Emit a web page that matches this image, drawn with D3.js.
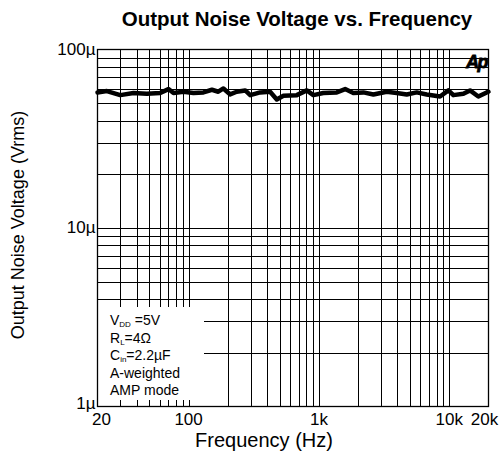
<!DOCTYPE html>
<html><head><meta charset="utf-8">
<script src="https://cdn.jsdelivr.net/npm/d3@7"></script>
<style>body{margin:0;background:#fff}svg{display:block}text{font-family:"Liberation Sans",Arial,sans-serif}</style>
</head><body>
<script>
const freq = [20,23.6,29.9,37.8,47.8,60.5,70.1,76.6,91.4,109,130,151,169,185,208,234,272,297,354,422,475,534,676,807,906,1081,1371,1589,1837,2193,2617,3313,3953,4717,5627,6714,8496,9846,10750,12830,14430,16710,19370,20000];
const noiseUV = [57.5,58.5,55.5,57,56.5,57,60,57,58,57,57.5,59.5,58,60.5,56,58,59,55.5,57.5,58,52.5,55,55.5,59,55.5,57,57.5,60,57,57.5,56,58,57,56,57.5,56,54.5,59,55.5,56.5,59,54.5,57.5,58];
const xTickVals = [20,100,1000,10000,20000];
const xTickLabels = ["20","100","1k","10k","20k"];
const yTickVals = [1e-6,1e-5,1e-4];
const yTickLabels = ["1\u00b5","10\u00b5","100\u00b5"];

const W=503,H=452;
const m={l:97.5,r:488.5,t:49.5,b:406.5};
const svg=d3.select("body").append("svg").attr("width",W).attr("height",H);
const x=d3.scaleLog().domain([20,20000]).range([m.l,m.r]);
const y=d3.scaleLog().domain([1e-6,1e-4]).range([m.b,m.t]);

// grid
const xGrid=[];
for(let d=10;d<=10000;d*=10) for(let k=1;k<=9;k++){const v=d*k; if(v>20&&v<20000) xGrid.push(v);}
const yGrid=[];
for(let d=1e-6;d<1e-4*0.99;d*=10) for(let k=2;k<=9;k++) yGrid.push(d*k);
yGrid.push(1e-5);
const g=svg.append("g").attr("stroke","#000").attr("stroke-width",1);
g.selectAll(".vx").data(xGrid).enter().append("line")
 .attr("x1",d=>Math.round(x(d))+0.5).attr("x2",d=>Math.round(x(d))+0.5).attr("y1",m.t).attr("y2",m.b);
g.selectAll(".hy").data(yGrid).enter().append("line")
 .attr("y1",d=>Math.round(y(d))+0.5).attr("y2",d=>Math.round(y(d))+0.5).attr("x1",m.l).attr("x2",m.r);

// legend box covering grid
svg.append("rect").attr("x",m.l+0.5).attr("y",307).attr("width",106).attr("height",93).attr("fill","#fff");

svg.append("rect").attr("x",m.l).attr("y",m.t).attr("width",m.r-m.l).attr("height",m.b-m.t)
 .attr("fill","none").attr("stroke","#000").attr("stroke-width",1.3);

// curve
const line=d3.line().x((d,i)=>x(freq[i])).y(d=>y(d*1e-6)).curve(d3.curveLinear);
svg.append("path").datum(noiseUV).attr("d",line).attr("fill","none").attr("stroke","#000")
 .attr("stroke-width",4.5).attr("stroke-linejoin","round").attr("stroke-linecap","round");

// x tick labels
svg.selectAll(".xl").data(xTickVals).enter().append("text")
 .attr("x",(d,i)=>i===0?x(d)+4:(i===xTickVals.length-1?x(d)-4:x(d))).attr("y",425)
 .attr("text-anchor","middle").attr("font-size",17).text((d,i)=>xTickLabels[i]);
// y tick labels
svg.selectAll(".yl").data(yTickVals).enter().append("text")
 .attr("x",m.l-2).attr("y",(d,i)=>y(d)+(i===0?2:5))
 .attr("text-anchor","end").attr("font-size",17).text((d,i)=>yTickLabels[i]);

// title & axis labels
svg.append("text").attr("x",297).attr("y",26).attr("text-anchor","middle").attr("font-size",20.5)
 .attr("font-weight","bold").text("Output Noise Voltage vs. Frequency");
svg.append("text").attr("x",264).attr("y",447).attr("text-anchor","middle").attr("font-size",20).text("Frequency (Hz)");
svg.append("text").attr("transform","translate(24,225) rotate(-90)").attr("text-anchor","middle")
 .attr("font-size",18).text("Output Noise Voltage (Vrms)");

// Ap logo
svg.append("text").attr("x",487).attr("y",68).attr("text-anchor","end").attr("font-size",18)
 .attr("font-weight","900").attr("font-style","italic").attr("letter-spacing","-1.5")
 .attr("stroke","#000").attr("stroke-width",0.8).text("Ap");

// legend text
const lg=svg.append("g").attr("font-size",14);
const t1=lg.append("text").attr("x",110).attr("y",325);
t1.append("tspan").text("V");
t1.append("tspan").attr("font-size",8).attr("dy",2).text("DD");
t1.append("tspan").attr("dy",-2).text(" =5V");
const t2=lg.append("text").attr("x",110).attr("y",342.5);
t2.append("tspan").text("R");
t2.append("tspan").attr("font-size",8).attr("dy",2).text("L");
t2.append("tspan").attr("dy",-2).text("=4\u03a9");
const t3=lg.append("text").attr("x",110).attr("y",360);
t3.append("tspan").text("C");
t3.append("tspan").attr("font-size",8).attr("dy",2).text("in");
t3.append("tspan").attr("dy",-2).text("=2.2\u00b5F");
lg.append("text").attr("x",110).attr("y",377.5).text("A-weighted");
lg.append("text").attr("x",110).attr("y",395).text("AMP mode");
</script>
</body></html>
